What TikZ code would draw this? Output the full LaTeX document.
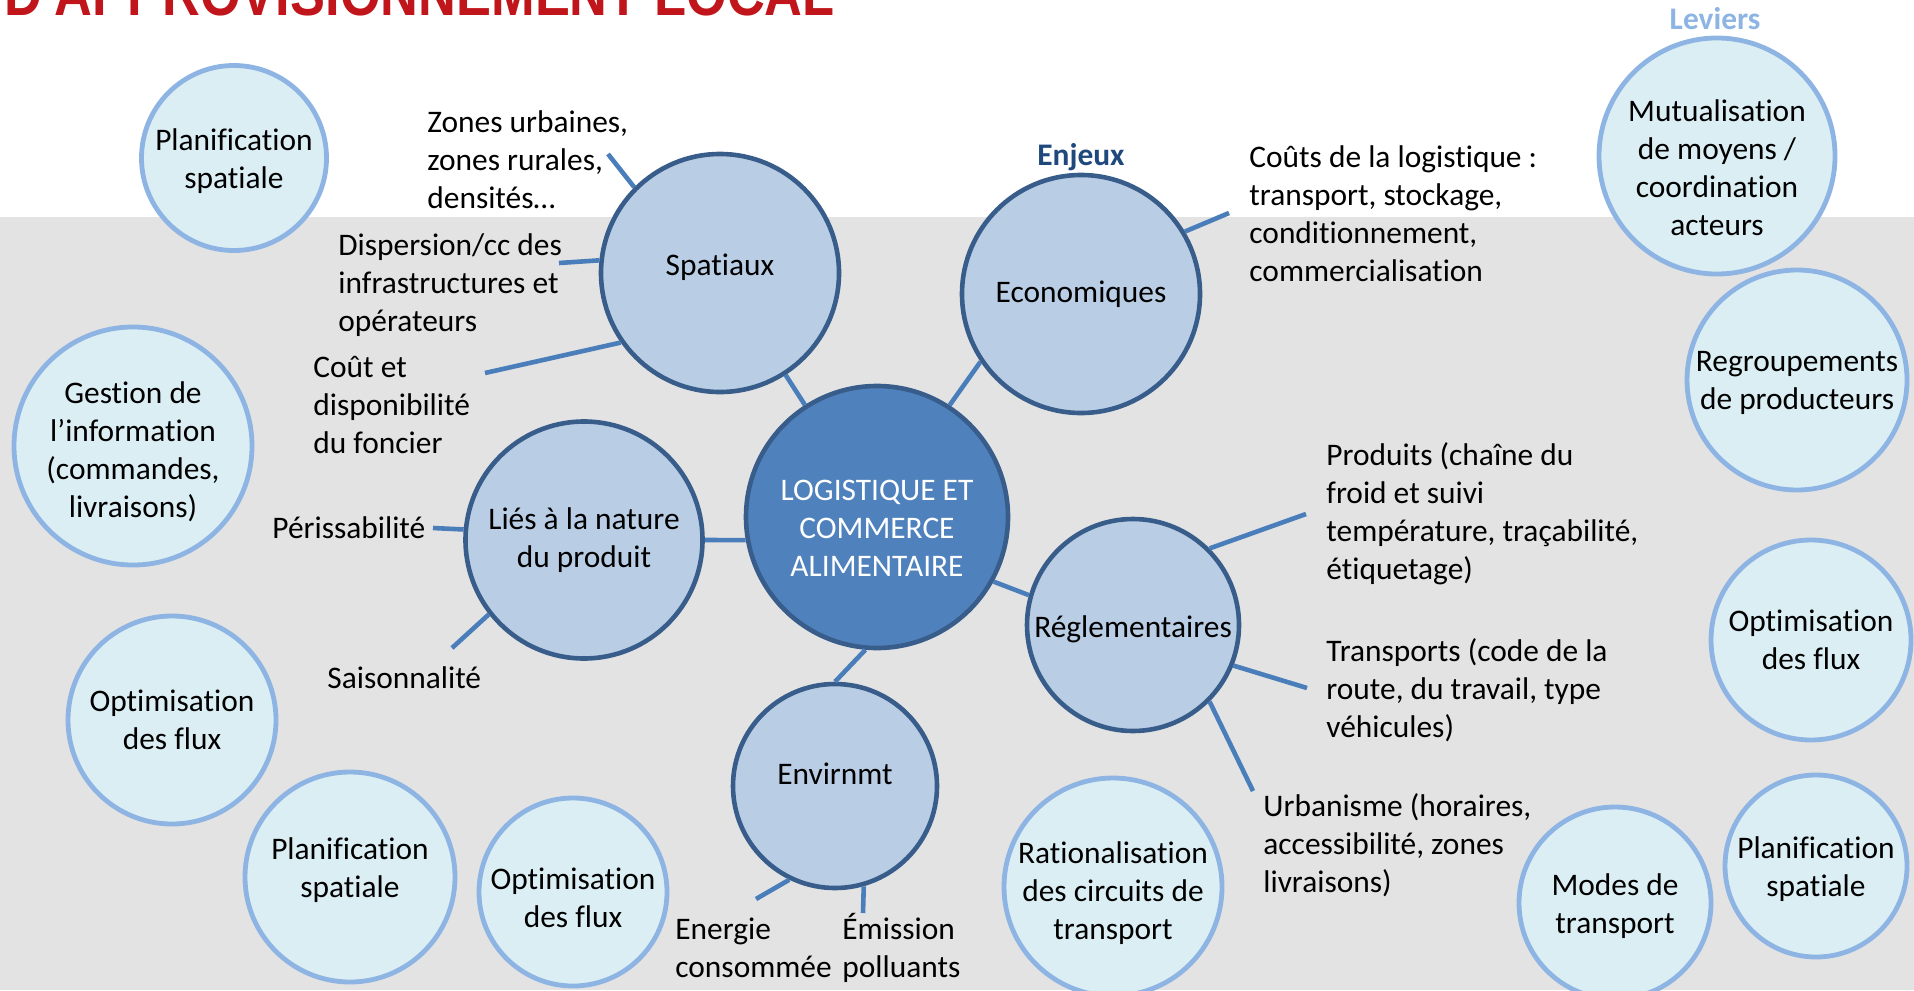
\documentclass[tikz,border=0pt]{standalone}
\usepackage{fontspec}
\setmainfont{Carlito}[Ligatures={NoCommon}]
\newfontfamily\titrefont{Liberation Sans}
\definecolor{fondgris}{HTML}{E3E3E3}
\definecolor{enjeufond}{HTML}{B9CDE5}
\definecolor{enjeubord}{HTML}{385D8A}
\definecolor{centrefond}{HTML}{4F81BD}
\definecolor{lienbleu}{HTML}{4A7EBB}
\definecolor{levierfond}{HTML}{DBEEF4}
\definecolor{levierbord}{HTML}{8DB4E2}
\definecolor{enjeutitre}{HTML}{1F497D}
\definecolor{titrerouge}{HTML}{C0161B}
\def\taille{\fontsize{15.7}{19}\selectfont}
\begin{document}
\begin{tikzpicture}[x=0.5pt, y=-0.5pt, font=\taille, line join=round,
    enjeu/.style={circle, draw=enjeubord, fill=enjeufond, line width=2.3pt, inner sep=0pt, align=center},
    levier/.style={circle, draw=levierbord, fill=levierfond, line width=2.4pt, inner sep=0pt, align=center},
    txt/.style={inner sep=0pt, align=left, anchor=west},
    lien/.style={draw=lienbleu, line width=2.3pt}]
    \useasboundingbox (0,0) rectangle (1914,990);
    \clip (0,0) rectangle (1914,990);
    \fill[fondgris] (0,217) rectangle (1914,990);
    \node[anchor=base west, inner sep=0pt, text=titrerouge, font=\titrefont\bfseries\fontsize{31}{31}\selectfont] (titre) at (4,16) {\scalebox{0.845}[1]{D'APPROVISIONNEMENT LOCAL}};
    % titres des colonnes
    \node[font=\taille\bfseries, text=enjeutitre] (enjeux) at (1081,157) {Enjeux};
    \node[font=\taille\bfseries, text=levierbord] (leviers) at (1715,19) {Leviers};
    % enjeux
    \node[enjeu, minimum size=131pt, fill=centrefond, label={[align=center, text=white, yshift=-5.5pt]center:LOGISTIQUE ET\\COMMERCE\\ALIMENTAIRE}] (centre) at (877,517) {};
    \node[enjeu, minimum size=119pt, label={[yshift=3pt]center:Spatiaux}] (spat) at (720,273) {};
    \node[enjeu, minimum size=119pt] (eco) at (1081,294) {Economiques};
    \node[enjeu, minimum size=106pt, label={[yshift=-2pt]center:Réglementaires}] (regl) at (1133,625) {};
    \node[enjeu, minimum size=102pt, label={[yshift=6pt]center:Envirnmt}] (env) at (835,786) {};
    \node[enjeu, minimum size=118.5pt] (lies) at (584,540) {Liés à la nature\\du produit};
    % leviers
    \node[levier, minimum size=92.5pt, label={[align=center, yshift=-1.5pt]center:Planification\\spatiale}] (plan1) at (234,158) {};
    \node[levier, minimum size=119pt, label={[align=center, yshift=-3pt]center:Gestion de\\l’information\\(commandes,\\livraisons)}] (gest) at (133,446) {};
    \node[levier, minimum size=104pt] (opt1) at (172,720) {Optimisation\\des flux};
    \node[levier, minimum size=105pt, label={[align=center, yshift=3.5pt]center:Planification\\spatiale}] (plan2) at (350,877) {};
    \node[levier, minimum size=94pt, label={[align=center, yshift=-3pt]center:Optimisation\\des flux}] (opt2) at (573,892) {};
    \node[levier, minimum size=109pt, label={[align=center, yshift=-3pt]center:Rationalisation\\des circuits de\\transport}] (ratio) at (1113,887) {};
    \node[levier, minimum size=96pt, label={[align=center, yshift=-1.5pt]center:Modes de\\transport}] (modes) at (1615,903) {};
    \node[levier, minimum size=91pt, label={[align=center, yshift=-1.5pt]center:Planification\\spatiale}] (plan3) at (1816,866) {};
    \node[levier, minimum size=100pt] (opt3) at (1811,640) {Optimisation\\des flux};
    \node[levier, minimum size=110pt, label={[align=center, yshift=-1.5pt]center:Regroupements\\de producteurs}] (regr) at (1797,380) {};
    \node[levier, minimum size=118pt, label={[align=center, yshift=-6pt]center:Mutualisation\\de moyens /\\coordination\\acteurs}] (mutu) at (1717,156) {};
    % textes
    \node[txt] (zones) at (427,160) {Zones urbaines,\\zones rurales,\\densités…};
    \node[txt] (disp) at (338,285) {Dispersion/cc des\\infrastructures et\\opérateurs};
    \node[txt] (foncier) at (313,405) {Coût et\\disponibilité\\du foncier};
    \node[txt] (periss) at (272,528) {Périssabilité};
    \node[txt] (saison) at (327,678) {Saisonnalité};
    \node[txt] (couts) at (1249,213.5) {Coûts de la logistique :\\transport, stockage,\\conditionnement,\\commercialisation};
    \node[txt] (prod) at (1326,513.5) {Produits (chaîne du\\froid et suivi\\température, traçabilité,\\étiquetage)};
    \node[txt] (transp) at (1326,690) {Transports (code de la\\route, du travail, type\\véhicules)};
    \node[txt] (urba) at (1263,845) {Urbanisme (horaires,\\accessibilité, zones\\livraisons)};
    \node[txt] (energie) at (675,948) {Energie\\consommée};
    \node[txt] (emission) at (842,948) {Émission\\polluants};
    % bouts libres des liens
    \coordinate (b-zones) at (608,154);
    \coordinate (b-disp) at (559,263);
    \coordinate (b-foncier) at (485,373);
    \coordinate (b-couts) at (1229,213);
    \coordinate (b-prod) at (1306,514);
    \coordinate (b-transp) at (1307,688);
    \coordinate (b-urba) at (1253,791);
    \coordinate (b-periss) at (433,528);
    \coordinate (b-saison) at (452,648);
    \coordinate (b-energie) at (756,899);
    \coordinate (b-emission) at (863,913);
    % liens
    \draw[lien] (spat) -- (centre);
    \draw[lien] (centre.57) -- (eco.214);
    \draw[lien] (centre.331) -- (regl.164);
    \draw[lien] (centre.265) -- (env.90);
    \draw[lien] (lies.0) -- (centre.190);
    \draw[lien] (spat.135) -- (b-zones);
    \draw[lien] (spat.174) -- (b-disp);
    \draw[lien] (spat.215) -- (b-foncier);
    \draw[lien] (eco.31) -- (b-couts);
    \draw[lien] (regl.45) -- (b-prod);
    \draw[lien] (regl.338) -- (b-transp);
    \draw[lien] (regl.315) -- (b-urba);
    \draw[lien] (lies.175) -- (b-periss);
    \draw[lien] (lies.218) -- (b-saison);
    \draw[lien] (env.244) -- (b-energie);
    \draw[lien] (env.286) -- (b-emission);
\end{tikzpicture}
\end{document}
